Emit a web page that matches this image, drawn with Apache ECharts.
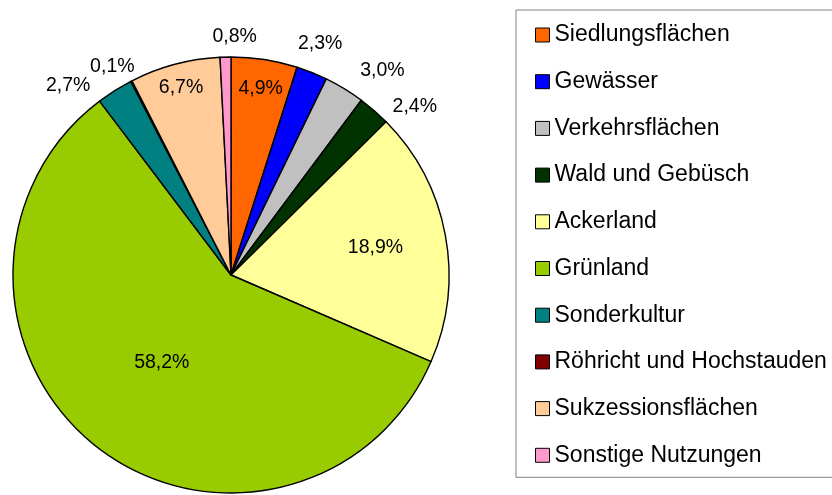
<!DOCTYPE html>
<html>
<head>
<meta charset="utf-8">
<script src="https://cdn.jsdelivr.net/npm/echarts@6/dist/echarts.min.js"></script>
<style>
    html, body {margin: 0; padding: 0; background: #fff;}
    #flaechenPie {width: 832px; height: 495px;}
</style>
</head>
<body>
<div id="flaechenPie"></div>
<script>
// Nutzungsarten und Anteile (%)
var nutzungNamen = ['Siedlungsflächen', 'Gewässer', 'Verkehrsflächen', 'Wald und Gebüsch', 'Ackerland',
    'Grünland', 'Sonderkultur', 'Röhricht und Hochstauden', 'Sukzessionsflächen', 'Sonstige Nutzungen'];
var nutzungAnteile = [4.9, 2.3, 3.0, 2.4, 18.9, 58.2, 2.7, 0.1, 6.7, 0.8];
var nutzungFarben = ['#FF6600', '#0000FF', '#C0C0C0', '#003300', '#FFFF99',
    '#99CC00', '#008080', '#800000', '#FFCC99', '#FF99CC'];

// in welchem Ring die Beschriftung steht
var labelRing = ['edge', 'out', 'out', 'out', 'mid', 'center', 'out', 'out', 'edge', 'out'];
// kleine Verschiebungen der Beschriftung (wie im Excel-Diagramm)
var labelShift = {0: [0, 5], 1: [-4, 2], 2: [21, 10], 3: [19, 21], 6: [-29, 23], 7: [-4, 15], 9: [10, 13]};

var pieCenter = [231, 275];
var pieRadius = 218;
var fontName = 'Liberation Sans, Arial, sans-serif';

function fmtProzent(p) {
    return p.value.toFixed(1).replace('.', ',') + '%';
}

var pieChart = echarts.init(document.getElementById('flaechenPie'));

// eigentliche Torte
var hauptData = [];
for (var i = 0; i < nutzungNamen.length; i++) {
    hauptData.push({
        name: nutzungNamen[i],
        value: nutzungAnteile[i],
        itemStyle: {color: nutzungFarben[i]},
        label: {show: labelRing[i] == 'center'}
    });
}

// unsichtbare Ringe nur fuer die Beschriftung
function labelSerie(ring, radius) {
    var d = [];
    for (var i = 0; i < nutzungNamen.length; i++) {
        d.push({name: nutzungNamen[i], value: nutzungAnteile[i], label: {show: labelRing[i] == ring}});
    }
    return {
        type: 'pie',
        center: pieCenter,
        radius: radius,
        silent: true,
        animation: false,
        avoidLabelOverlap: false,
        emphasis: {disabled: true},
        itemStyle: {color: 'rgba(0,0,0,0)', borderWidth: 0},
        label: {position: 'inside', color: '#000', fontFamily: fontName, fontSize: 19.5, formatter: fmtProzent},
        labelLine: {show: false},
        labelLayout: function (params) {
            var s = labelShift[params.dataIndex];
            return s ? {dx: s[0], dy: s[1]} : {};
        },
        data: d
    };
}

var option = {
    backgroundColor: '#fff',
    animation: false,
    legend: {
        orient: 'vertical',
        left: 516,
        top: 10,
        padding: [13, 20, 10, 19],
        borderColor: '#808080',
        borderWidth: 1,
        itemWidth: 14,
        itemHeight: 14,
        itemGap: 22.7,
        icon: 'rect',
        selectedMode: false,
        itemStyle: {borderColor: '#000', borderWidth: 1},
        textStyle: {color: '#000', fontFamily: fontName, fontSize: 23, lineHeight: 24},
        data: nutzungNamen
    },
    series: [
        {
            type: 'pie',
            center: pieCenter,
            radius: pieRadius,
            startAngle: 90,
            clockwise: true,
            animation: false,
            avoidLabelOverlap: false,
            emphasis: {disabled: true},
            itemStyle: {borderColor: '#000', borderWidth: 1.4},
            label: {position: 'inside', color: '#000', fontFamily: fontName, fontSize: 19.5, formatter: fmtProzent},
            labelLine: {show: false},
            data: hauptData
        },
        labelSerie('out', [pieRadius + 18, pieRadius + 42]),
        labelSerie('edge', [pieRadius * 0.8, pieRadius * 0.95]),
        labelSerie('mid', [124, 164])
    ]
};
pieChart.setOption(option);
</script>
</body>
</html>
